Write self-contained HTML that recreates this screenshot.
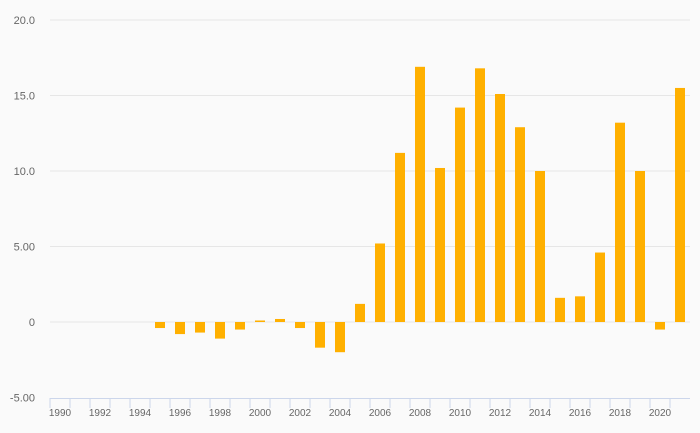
<!DOCTYPE html>
<html><head><meta charset="utf-8"><style>
body{margin:0;background:#fafafa;}
svg{display:block;font-family:"Liberation Sans",sans-serif;}
</style></head><body>
<svg id="chart" width="700" height="433">
<rect width="700" height="433" fill="#fafafa"/>
<g id="grid"></g><g id="bars"></g><g id="xaxis"></g>
</svg>
<script>
const years=[1990,1991,1992,1993,1994,1995,1996,1997,1998,1999,2000,2001,2002,2003,2004,2005,2006,2007,2008,2009,2010,2011,2012,2013,2014,2015,2016,2017,2018,2019,2020,2021];
const values=[null,null,null,null,null,-0.4,-0.8,-0.7,-1.1,-0.5,0.1,0.2,-0.4,-1.7,-2.0,1.2,5.2,11.2,16.9,10.2,14.2,16.8,15.1,12.9,10.0,1.6,1.7,4.6,13.2,10.0,-0.5,15.5];
const yTicks=[-5,0,5,10,15,20];
const yTickLabels=["-5.00","0","5.00","10.0","15.0","20.0"];
const xTickYears=[1990,1992,1994,1996,1998,2000,2002,2004,2006,2008,2010,2012,2014,2016,2018,2020];
const NS="http://www.w3.org/2000/svg";
function y(v){return 322-v*15.1;}
function x(yr){return 60+(yr-1990)*20;}
const grid=document.getElementById('grid');
yTicks.forEach((t,i)=>{
  if(t!==-5){const l=document.createElementNS(NS,'line');
  l.setAttribute('x1',50);l.setAttribute('x2',690);l.setAttribute('y1',y(t));l.setAttribute('y2',y(t));
  l.setAttribute('stroke','#e6e6e6');l.setAttribute('stroke-width',1);
  
  
  grid.appendChild(l);}
  const tx=document.createElementNS(NS,'text');
  tx.setAttribute('x',35);tx.setAttribute('y',y(t)+4);tx.setAttribute('text-anchor','end');
  tx.setAttribute('font-size','11');tx.setAttribute('fill','#666');tx.textContent=yTickLabels[i];
  
  
  grid.appendChild(tx);
});
const bars=document.getElementById('bars');
years.forEach((yr,i)=>{
  const v=values[i]; if(v===null) return;
  const r=document.createElementNS(NS,'rect');
  r.setAttribute('x',x(yr)-5);r.setAttribute('width',10);
  r.setAttribute('y',Math.min(y(v),y(0)));r.setAttribute('height',Math.max(Math.abs(y(v)-y(0)),1));
  r.setAttribute('fill','#ffb000');
  
  
  bars.appendChild(r);
});
const xa=document.getElementById('xaxis');
const al=document.createElementNS(NS,'line');
al.setAttribute('x1',50);al.setAttribute('x2',690);al.setAttribute('y1',398.5);al.setAttribute('y2',398.5);
al.setAttribute('stroke','#ccd6eb');


xa.appendChild(al);
years.forEach(yr=>{
  const t=document.createElementNS(NS,'line');
  t.setAttribute('x1',x(yr)-10);t.setAttribute('x2',x(yr)-10);t.setAttribute('y1',398);t.setAttribute('y2',408);
  t.setAttribute('stroke','#ccd6eb');
  
  
  xa.appendChild(t);
});
xTickYears.forEach(yr=>{
  const tx=document.createElementNS(NS,'text');
  tx.setAttribute('x',x(yr));tx.setAttribute('y',416);tx.setAttribute('text-anchor','middle');
  tx.setAttribute('font-size','10');tx.setAttribute('fill','#666');tx.textContent=yr;
  
  
  xa.appendChild(tx);
});
</script>
</body></html>
